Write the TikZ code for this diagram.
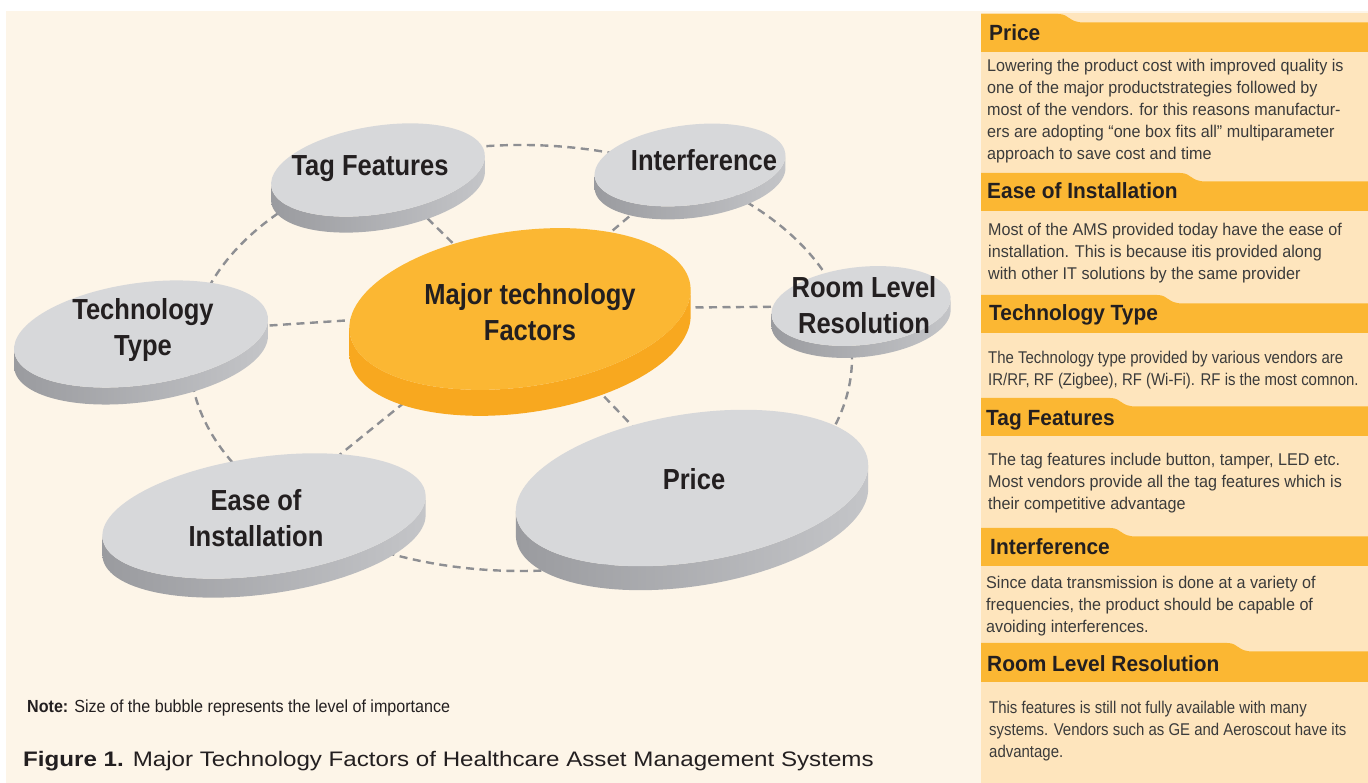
\documentclass[tikz,border=0pt]{standalone}
\usepackage{fontspec}
\setmainfont{Liberation Sans}[FakeStretch=0.95]
\newfontfamily\bubblefont{Liberation Sans}[FakeStretch=0.88]
\newfontfamily\notefont{Liberation Sans}[FakeStretch=0.92]
\newfontfamily\capfont{Liberation Sans}[FakeStretch=1.15]

\definecolor{cream}{HTML}{FDF5E8}
\definecolor{panel}{HTML}{FEE5BD}
\definecolor{band}{HTML}{FBB733}
\definecolor{ink}{HTML}{231F20}
\definecolor{bodyink}{HTML}{3B3B3B}
\definecolor{linkgray}{HTML}{8E8F93}
\definecolor{disktop}{HTML}{D7D8DA}
\definecolor{sidedark}{HTML}{9A9B9F}
\definecolor{sidelight}{HTML}{C4C5C8}
\definecolor{hubtop}{HTML}{FBB733}
\definecolor{hubside}{HTML}{F8A81F}

% #1,#2 centre, #3,#4 radii, #5 tilt, #6 thickness, #7 top, #8/#9 side shading
\newcommand{\bubble}[9]{%
  \pgfmathsetmacro{\tz}{atan(-(#4)*tan(#5)/(#3))}%
  \shade[left color=#8, right color=#9]
    plot[domain=\tz+180:\tz+360, samples=60, variable=\t]
      ({#1+#3*cos(\t)*cos(#5)-#4*sin(\t)*sin(#5)},
       {#2-#6+#3*cos(\t)*sin(#5)+#4*sin(\t)*cos(#5)})
    -- plot[domain=\tz+360:\tz+180, samples=60, variable=\t]
      ({#1+#3*cos(\t)*cos(#5)-#4*sin(\t)*sin(#5)},
       {#2+#3*cos(\t)*sin(#5)+#4*sin(\t)*cos(#5)})
    -- cycle;
  \fill[#7, rotate around={#5:(#1,#2)}] (#1,#2) ellipse [x radius=#3, y radius=#4];
}

\begin{document}
\begin{tikzpicture}[x=1pt, y=1pt,
    link/.style = {draw=linkgray, line width=2.4pt, dash pattern=on 8pt off 5.5pt},
    bubble label/.style = {font=\bubblefont\bfseries\fontsize{29}{36}\selectfont, text=ink, align=center, inner sep=0pt},
    band label/.style = {font=\bfseries\fontsize{22}{26}\selectfont, text=ink, anchor=base west, inner sep=0pt},
    band text/.style = {font=\fontsize{17}{22}\selectfont, text=bodyink, anchor=north west, align=left, inner sep=0pt},
    narrow text/.style = {band text, font=\bubblefont\fontsize{17}{22}\selectfont}]
		\useasboundingbox (0,0) rectangle (1368,783);
		\fill[white] (0,0) rectangle (1368,783);
		\fill[cream] (6,0) rectangle (1368,772);
		\fill[panel] (981,0) rectangle (1368,770);

		\coordinate (hub) at (520,474);
		\coordinate (tag) at (378,613);
		\coordinate (intf) at (690,618);
		\coordinate (room) at (861,477);
		\coordinate (tech) at (141,449);
		\coordinate (ease) at (264,267);
		\coordinate (price) at (692,295);
		\coordinate (ringc) at (521,425);

		\draw[link] (ringc) ellipse [x radius=331, y radius=213];
		\foreach \n in {tag,intf,room,tech,ease,price}
			\draw[link] (hub) -- (\n);

		\bubble{378}{613}{108}{44}{9}{16}{disktop}{sidedark}{sidelight}
		\bubble{690}{618}{96}{40}{7}{13}{disktop}{sidedark}{sidelight}
		\bubble{861}{477}{90}{39}{6}{12}{disktop}{sidedark}{sidelight}
		\bubble{141}{449}{128}{51}{8}{17}{disktop}{sidedark}{sidelight}
		\bubble{520}{474}{172}{78}{8}{26}{hubtop}{hubside}{hubside}
		\bubble{264}{267}{163}{59}{8}{19}{disktop}{sidedark}{sidelight}
		\bubble{692}{295}{178}{74}{9}{24}{disktop}{sidedark}{sidelight}

		\node[bubble label] (hublabel) at (530,471) {Major technology\\Factors};
		\node[bubble label] (taglabel) at (370,614) {Tag Features};
		\node[bubble label] (intflabel) at (704,623) {Interference};
		\node[bubble label] (roomlabel) at (864,478) {Room Level\\Resolution};
		\node[bubble label] (techlabel) at (143,453) {Technology\\Type};
		\node[bubble label] (easelabel) at (256,265) {Ease of\\Installation};
		\node[bubble label] (pricelabel) at (694,304) {Price};

		\foreach \yb/\yt/\xe in {731/769/1058, 572/610/1180, 450/488/1157, 347/385/1110, 217/255/1110, 101/140/1227}
			\fill[band] (981,\yb) -- (981,\yt) -- (\xe,\yt)
				.. controls (\xe+12,\yt) and (\xe+10,\yt-8.5) .. (\xe+26,\yt-8.5)
				-- (1368,\yt-8.5) -- (1368,\yb) -- cycle;

		\node[band label] (hprice) at (989,742) {Price};
		\node[band label] (hease) at (987,584) {Ease of Installation};
		\node[band label] (htech) at (989,462) {Technology Type};
		\node[band label] (htag) at (986,357) {Tag Features};
		\node[band label] (hintf) at (990,228) {Interference};
		\node[band label] (hroom) at (987,111) {Room Level Resolution};

		\node[band text] (tprice) at (987,724.5) {Lowering the product cost with improved quality is\\one of the major productstrategies followed by\\most of the vendors. for this reasons manufactur-\\ers are adopting “one box fits all” multiparameter\\approach to save cost and time};
		\node[band text] (tease) at (988,560.5) {Most of the AMS provided today have the ease of\\installation. This is because itis provided along\\with other IT solutions by the same provider};
		\node[narrow text] (ttech) at (988,432.5) {The Technology type provided by various vendors are\\IR/RF, RF (Zigbee), RF (Wi-Fi). RF is the most comnon.};
		\node[band text] (ttag) at (988,330.5) {The tag features include button, tamper, LED etc.\\Most vendors provide all the tag features which is\\their competitive advantage};
		\node[band text] (tintf) at (986,207.5) {Since data transmission is done at a variety of\\frequencies, the product should be capable of\\avoiding interferences.};
		\node[narrow text] (troom) at (989,82.5) {This features is still not fully available with many\\systems. Vendors such as GE and Aeroscout have its\\advantage.};

		\node[anchor=base west, inner sep=0pt, text=ink, font=\notefont\fontsize{17.5}{20}\selectfont] (note) at (27,70) {\textbf{Note:} Size of the bubble represents the level of importance};
		\node[anchor=base west, inner sep=0pt, text=ink, font=\capfont\fontsize{21}{24}\selectfont] (caption) at (23,16) {\textbf{Figure 1.} Major Technology Factors of Healthcare Asset Management Systems};
	\end{tikzpicture}
\end{document}
